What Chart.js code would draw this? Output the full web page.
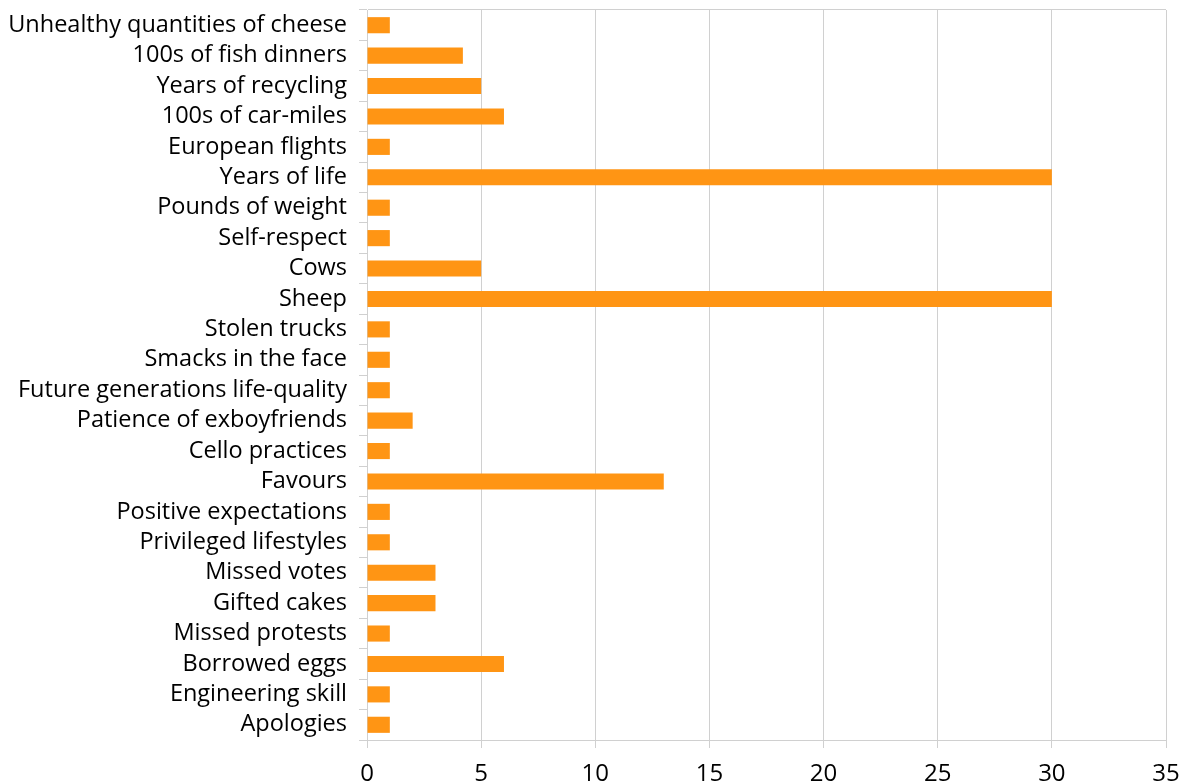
<!DOCTYPE html>
<html>
<head>
<meta charset="utf-8">
<script src="https://cdn.jsdelivr.net/npm/chart.js@4"></script>
<style>
  html, body { margin: 0; padding: 0; background: #fff; }
  #wrap { width: 1201px; height: 783px; position: relative; }
</style>
</head>
<body>
<div id="wrap"><canvas id="chart"></canvas></div>
<script>
// categories, top to bottom as in the picture
const labels = [
    'Unhealthy quantities of cheese',
    '100s of fish dinners',
    'Years of recycling',
    '100s of car-miles',
    'European flights',
    'Years of life',
    'Pounds of weight',
    'Self-respect',
    'Cows',
    'Sheep',
    'Stolen trucks',
    'Smacks in the face',
    'Future generations life-quality',
    'Patience of exboyfriends',
    'Cello practices',
    'Favours',
    'Positive expectations',
    'Privileged lifestyles',
    'Missed votes',
    'Gifted cakes',
    'Missed protests',
    'Borrowed eggs',
    'Engineering skill',
    'Apologies'
]
const values = [1, 4.2, 5, 6, 1, 30, 1, 1, 5, 30, 1, 1, 1, 2, 1, 13, 1, 1, 3, 3, 1, 6, 1, 1]

const X_MAX = 35
const X_STEP = 5

const FONT = '"Open Sans", Carlito, Lato, sans-serif'
const GRID = '#d0d0d0'

new Chart(document.getElementById('chart'), {
    type: 'bar',
    data: {
        labels: labels,
        datasets: [{
            data: values,
            backgroundColor: '#FF9514',
            borderWidth: 0,
            barPercentage: 0.53,
            categoryPercentage: 1.0
        }]
    },
    options: {
        indexAxis: 'y',
        responsive: true,
        maintainAspectRatio: false,
        animation: false,
        layout: { padding: { top: 10, right: 35, left: 0, bottom: 0 } },
        plugins: {
            legend: { display: false },
            tooltip: { enabled: false }
        },
        scales: {
            x: {
                min: 0,
                max: X_MAX,
                ticks: {
                    stepSize: X_STEP,
                    color: '#000',
                    padding: 12,
                    font: { family: FONT, size: 24 }
                },
                grid: { color: GRID, tickColor: GRID, tickLength: 8 },
                border: { color: GRID },
                afterFit: s => { s.height = 43 }
            },
            y: {
                ticks: {
                    color: '#000',
                    padding: 12,
                    autoSkip: false,
                    font: { family: FONT, size: 23.5 }
                },
                grid: {
                    offset: true,
                    // only the top boundary line runs across the plot, the rest are tick marks
                    color: ctx => ctx.index === 0 ? GRID : 'rgba(0,0,0,0)',
                    tickColor: GRID,
                    tickLength: 8
                },
                border: { color: GRID },
                afterFit: s => {
                    s.width = 367
                    s.paddingTop = 0
                    s.paddingBottom = 0
                }
            }
        }
    }
})
</script>
</body>
</html>
